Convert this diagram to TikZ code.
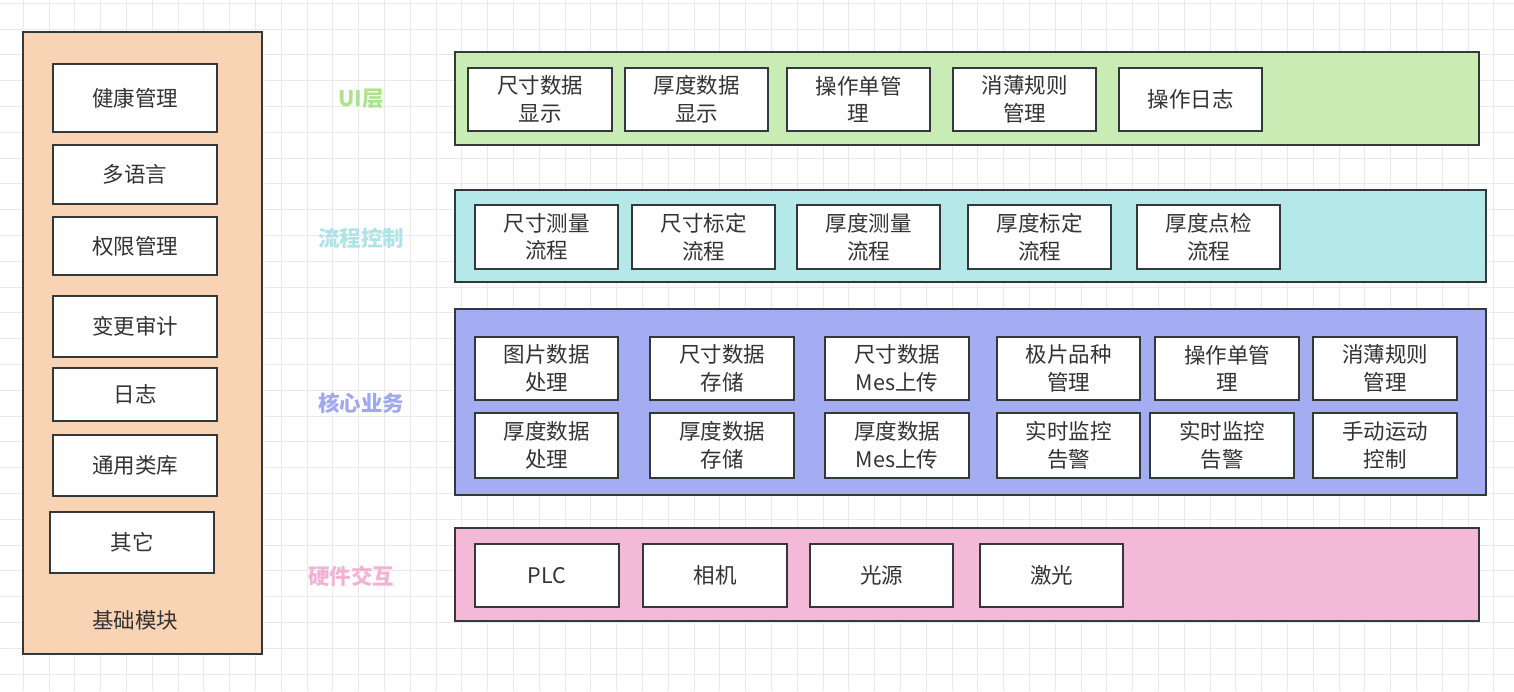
\documentclass[tikz,border=0pt]{standalone}
\usepackage{fontspec}
\setmainfont{Noto Sans CJK SC}
\definecolor{gridc}{HTML}{EAEAEA}
\definecolor{edge}{HTML}{33383A}
\definecolor{txt}{HTML}{333333}
\definecolor{peach}{HTML}{F8D4B4}
\definecolor{uig}{HTML}{C9ECB5}
\definecolor{flc}{HTML}{B5E8E8}
\definecolor{cob}{HTML}{A4ADF2}
\definecolor{hwp}{HTML}{F4B9D9}
\definecolor{uilab}{HTML}{ADE38E}
\definecolor{fllab}{HTML}{AEE3E8}
\definecolor{colab}{HTML}{A0A9F0}
\definecolor{hwlab}{HTML}{F3B2D4}
\tikzset{
  cell/.style={draw=edge, line width=2pt, fill=white, inner sep=0pt, align=center,
    font=\fontsize{21.5}{27.5}\selectfont, text=txt},
  layer/.style={draw=edge, line width=2pt, inner sep=0pt},
  laylab/.style={font=\fontsize{21.5}{24}\selectfont\bfseries, inner sep=0pt},
}
\newcommand\bx[6]{\node[cell, minimum width={#4-#2}, minimum height={#5-#3}] (#1) at ({(#2+#4)/2},{(#3+#5)/2}) {#6};}
\newcommand\ly[6]{\node[layer, fill=#6, minimum width={#4-#2}, minimum height={#5-#3}] (#1) at ({(#2+#4)/2},{(#3+#5)/2}) {};}
\begin{document}
\begin{tikzpicture}[x=1pt,y=-1pt]
\useasboundingbox (0,0) rectangle (1514,691);
\fill[white] (0,0) rectangle (1514,691);
% grid
\foreach \k in {0,...,59} \draw[gridc, line width=1pt] ({-2.5+25.8*\k},0) -- ({-2.5+25.8*\k},691);
\foreach \k in {0,...,26} \draw[gridc, line width=1pt] (0,{3.3+25.8*\k}) -- (1514,{3.3+25.8*\k});

% left base module
\ly{base}{23}{32}{262}{654}{peach}
\bx{b1}{53}{64}{217}{132}{健康管理}
\bx{b2}{53}{145}{217}{204}{多语言}
\bx{b3}{53}{217}{217}{275}{权限管理}
\bx{b4}{53}{296}{217}{357}{变更审计}
\bx{b5}{53}{368}{217}{421}{日志}
\bx{b6}{53}{435}{217}{496}{通用类库}
\bx{b7}{50}{512}{214}{573}{其它}
\node[font=\fontsize{21.5}{24}\selectfont, text=txt, inner sep=0pt] (baselab) at (135,620) {基础模块};

% layer labels
\node[laylab, text=uilab] (luil) at (361,99) {UI层};
\node[laylab, text=fllab] (lflo) at (361,238) {流程控制};
\node[laylab, text=colab] (lcor) at (361,403) {核心业务};
\node[laylab, text=hwlab] (lhw) at (351,576) {硬件交互};

% UI layer
\ly{ui}{455}{52}{1479}{145}{uig}
\bx{u1}{468}{68}{612}{131}{尺寸数据\\显示}
\bx{u2}{625}{68}{768}{131}{厚度数据\\显示}
\bx{u3}{787}{68}{930}{131}{操作单管\\理}
\bx{u4}{953}{68}{1096}{131}{消薄规则\\管理}
\bx{u5}{1119}{68}{1262}{131}{操作日志}

% flow control
\ly{fl}{455}{190}{1486}{282}{flc}
\bx{f1}{475}{205}{618}{269}{尺寸测量\\流程}
\bx{f2}{632}{205}{775}{269}{尺寸标定\\流程}
\bx{f3}{797}{205}{940}{269}{厚度测量\\流程}
\bx{f4}{968}{205}{1111}{269}{厚度标定\\流程}
\bx{f5}{1137}{205}{1280}{269}{厚度点检\\流程}

% core business
\ly{co}{455}{309}{1486}{495}{cob}
\bx{c1}{475}{337}{618}{400}{图片数据\\处理}
\bx{c2}{650}{337}{794}{400}{尺寸数据\\存储}
\bx{c3}{825}{337}{969}{400}{尺寸数据\\Mes上传}
\bx{c4}{997}{337}{1140}{400}{极片品种\\管理}
\bx{c5}{1155}{337}{1299}{400}{操作单管\\理}
\bx{c6}{1313}{337}{1457}{400}{消薄规则\\管理}
\bx{d1}{475}{413}{618}{478}{厚度数据\\处理}
\bx{d2}{650}{413}{794}{478}{厚度数据\\存储}
\bx{d3}{825}{413}{969}{478}{厚度数据\\Mes上传}
\bx{d4}{997}{413}{1140}{478}{实时监控\\告警}
\bx{d5}{1150}{413}{1294}{478}{实时监控\\告警}
\bx{d6}{1313}{413}{1457}{478}{手动运动\\控制}

% hardware
\ly{hw}{455}{528}{1479}{621}{hwp}
\bx{h1}{475}{544}{619}{607}{PLC}
\bx{h2}{643}{544}{787}{607}{相机}
\bx{h3}{810}{544}{953}{607}{光源}
\bx{h4}{980}{544}{1123}{607}{激光}
\end{tikzpicture}
\end{document}
